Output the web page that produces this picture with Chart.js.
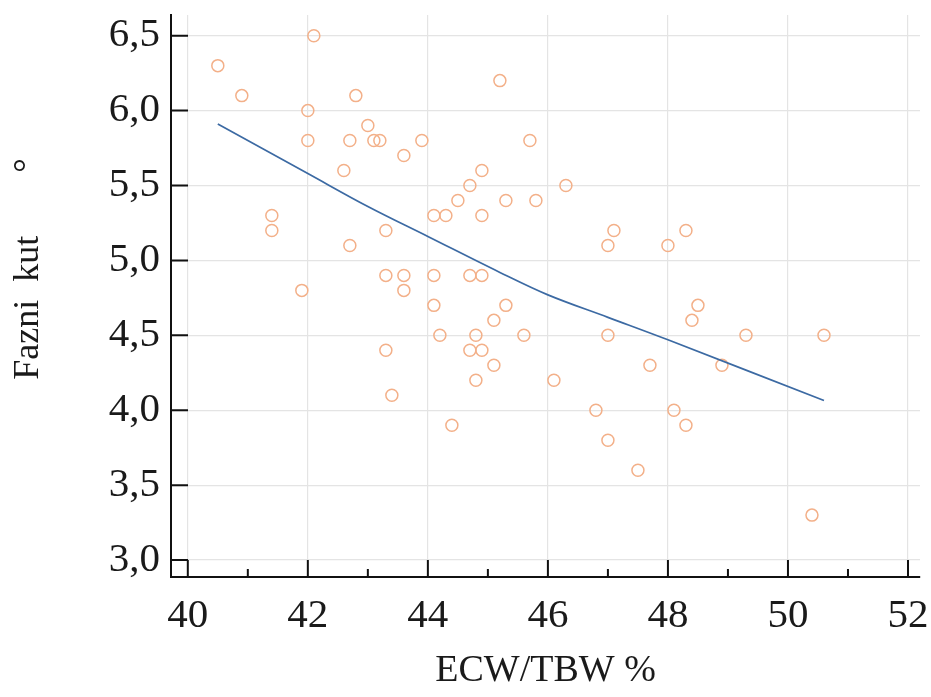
<!DOCTYPE html>
<html>
<head>
<meta charset="utf-8">
<script src="https://cdn.jsdelivr.net/npm/chart.js@4/dist/chart.umd.min.js"></script>
<style>
  html, body { margin: 0; padding: 0; background: #fff; }
</style>
</head>
<body>
<canvas id="chart" width="931" height="697"></canvas>
<script>
// ECW/TBW % vs phase angle, one value per patient
const ecwTbw = [
  40.5, 40.9, 41.4, 41.4, 41.9, 42.0, 42.0, 42.1, 42.6, 42.7, 42.7, 42.8, 43.0,
  43.1, 43.2, 43.3, 43.3, 43.3, 43.4, 43.6, 43.6, 43.6, 43.9, 44.1, 44.1, 44.1,
  44.2, 44.3, 44.4, 44.5, 44.7, 44.7, 44.7, 44.8, 44.8, 44.9, 44.9, 44.9, 44.9,
  45.1, 45.1, 45.2, 45.3, 45.3, 45.6, 45.7, 45.8, 46.1, 46.3, 46.8, 47.0, 47.0,
  47.0, 47.1, 47.5, 47.7, 48.0, 48.1, 48.3, 48.3, 48.4, 48.5, 48.9, 49.3, 50.4, 50.6
]
const fazniKut = [
  6.3, 6.1, 5.3, 5.2, 4.8, 6.0, 5.8, 6.5, 5.6, 5.8, 5.1, 6.1, 5.9,
  5.8, 5.8, 5.2, 4.9, 4.4, 4.1, 5.7, 4.9, 4.8, 5.8, 5.3, 4.9, 4.7,
  4.5, 5.3, 3.9, 5.4, 5.5, 4.9, 4.4, 4.5, 4.2, 5.6, 5.3, 4.9, 4.4,
  4.6, 4.3, 6.2, 5.4, 4.7, 4.5, 5.8, 5.4, 4.2, 5.5, 4.0, 5.1, 4.5,
  3.8, 5.2, 3.6, 4.3, 5.1, 4.0, 5.2, 3.9, 4.6, 4.7, 4.3, 4.5, 3.3, 4.5
]

// fitted curve
const fitX = [40.5, 42.0, 43.0, 44.0, 45.2, 46.0, 47.0, 48.0, 50.6]
const fitY = [5.91, 5.58, 5.36, 5.16, 4.92, 4.77, 4.62, 4.47, 4.065]

const xTicks = [40, 42, 44, 46, 48, 50, 52]
const xMinorTicks = [41, 43, 45, 47, 49, 51]
const yTicks = [3.0, 3.5, 4.0, 4.5, 5.0, 5.5, 6.0, 6.5]

const points = ecwTbw.map((x, i) => ({ x, y: fazniKut[i] }))
const fit = fitX.map((x, i) => ({ x, y: fitY[i] }))

// ticks point into the plot, so draw them ourselves
const innerTicks = {
  id: 'innerTicks',
  afterDraw(chart) {
    const { ctx, chartArea, scales: { x, y } } = chart
    ctx.save()
    ctx.strokeStyle = '#111'
    ctx.lineWidth = 2
    ctx.beginPath()
    xTicks.forEach(v => {
      const px = x.getPixelForValue(v)
      ctx.moveTo(px, chartArea.bottom)
      ctx.lineTo(px, chartArea.bottom - 17)
    })
    xMinorTicks.forEach(v => {
      const px = x.getPixelForValue(v)
      ctx.moveTo(px, chartArea.bottom)
      ctx.lineTo(px, chartArea.bottom - 8)
    })
    yTicks.forEach(v => {
      const py = y.getPixelForValue(v)
      ctx.moveTo(chartArea.left, py)
      ctx.lineTo(chartArea.left + 17, py)
    })
    ctx.stroke()
    ctx.restore()
  }
}

const serif = "'Liberation Serif', 'Times New Roman', serif"

new Chart(document.getElementById('chart'), {
  type: 'scatter',
  data: {
    datasets: [
      {
        data: points,
        pointRadius: 6,
        pointBorderWidth: 1.5,
        pointBorderColor: '#f3b089',
        pointBackgroundColor: 'rgba(255,255,255,0)',
        order: 2
      },
      {
        data: fit,
        showLine: true,
        pointRadius: 0,
        borderColor: '#3c6aa3',
        borderWidth: 1.7,
        tension: 0.35,
        order: 1
      }
    ]
  },
  options: {
    responsive: false,
    animation: false,
    layout: { padding: { top: 15, right: 11 } },
    plugins: { legend: { display: false }, tooltip: { enabled: false } },
    scales: {
      x: {
        type: 'linear',
        min: 39.72,
        max: 52.2,
        afterBuildTicks: s => { s.ticks = xTicks.map(value => ({ value })) },
        afterFit: s => { s.height = 120; s.paddingLeft = 0; s.paddingRight = 0 },
        grid: { color: '#e4e4e4', lineWidth: 1.2, drawTicks: false },
        border: { display: true, color: '#111', width: 2 },
        ticks: {
          padding: 15,
          color: '#1a1a1a',
          font: { family: serif, size: 41 },
          callback: v => String(v)
        },
        title: {
          display: true,
          text: 'ECW/TBW %',
          color: '#1a1a1a',
          padding: { bottom: 3 },
          font: { family: serif, size: 38 }
        }
      },
      y: {
        type: 'linear',
        min: 2.887,
        max: 6.638,
        afterBuildTicks: s => { s.ticks = yTicks.map(value => ({ value })) },
        afterFit: s => { s.width = 171; s.paddingTop = 0; s.paddingBottom = 0 },
        grid: { color: '#e4e4e4', lineWidth: 1.2, drawTicks: false },
        border: { display: true, color: '#111', width: 2 },
        ticks: {
          padding: 11,
          color: '#1a1a1a',
          font: { family: serif, size: 41 },
          callback: v => v.toFixed(1).replace('.', ',')
        },
        title: {
          display: true,
          text: '      Fazni  kut       °',
          color: '#1a1a1a',
          padding: { top: 7 },
          font: { family: serif, size: 36 }
        }
      }
    }
  },
  plugins: [innerTicks]
})
</script>
</body>
</html>
